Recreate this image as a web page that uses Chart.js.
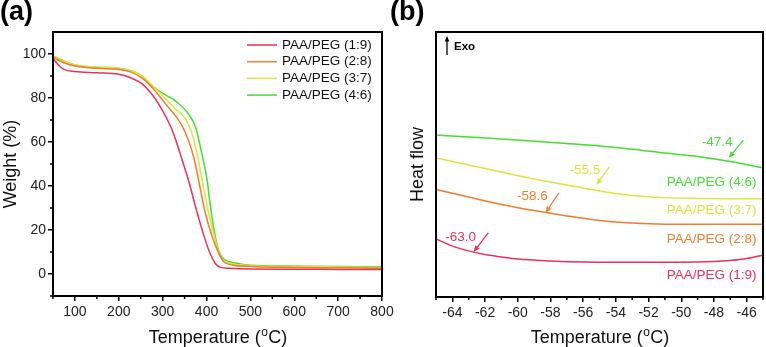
<!DOCTYPE html>
<html>
<head>
<meta charset="utf-8">
<script src="https://cdn.jsdelivr.net/npm/chart.js@4.4.0/dist/chart.umd.min.js"></script>
<style>
  body { margin: 0; background: #fff; }
  #wrap { position: relative; width: 766px; height: 347px; }
  .box { position: absolute; top: 0; height: 347px; }
</style>
</head>
<body>
<div id="wrap">
  <div class="box" style="left:0;width:400px"><canvas id="tga"></canvas></div>
  <div class="box" style="left:390px;width:376px"><canvas id="dsc"></canvas></div>
</div>
<script>
// ---- data: TGA, panel (a) ----
var seriesLabels = ['PAA/PEG (1:9)', 'PAA/PEG (2:8)', 'PAA/PEG (3:7)', 'PAA/PEG (4:6)'];
var seriesColors = ['#e8325a', '#f07d2e', '#dde43c', '#44dd33'];

var tgaTemp1 = [50, 60, 75, 100, 150, 200, 225, 254, 281, 300, 319, 329, 340, 352, 359, 375, 390, 405, 420, 432, 451, 500, 600, 700, 800];
var tgaWeight1 = [98, 95.5, 93, 92, 91.5, 90.8, 89.3, 86.3, 80.2, 74.2, 66.7, 61.4, 54.6, 47, 42.5, 30.5, 20, 10.9, 4.8, 3, 2.6, 2.3, 2.2, 2.1, 2];

var tgaTemp2 = [50, 75, 100, 150, 200, 225, 250, 270, 290, 310, 329, 344, 359, 371, 382, 397.5, 413, 428, 439, 459, 500, 600, 700, 800];
var tgaWeight2 = [98.5, 96, 94.5, 93.5, 93, 92, 89.5, 86, 81.5, 76.5, 72, 67.4, 60.6, 53, 42.5, 27.5, 16.9, 9.4, 5.6, 4.1, 3.4, 3, 2.8, 2.6];

var tgaTemp3 = [50, 100, 150, 200, 225, 250, 270, 290, 310, 329, 352, 367, 378.5, 390, 405, 420, 432, 443, 460, 500, 600, 700, 800];
var tgaWeight3 = [99, 95, 94, 93.5, 92.5, 90.5, 87, 83, 79, 75, 70.5, 63.7, 54.6, 42.5, 27.5, 15.4, 7.8, 5.6, 4.5, 3.8, 3.4, 3.2, 3];

var tgaTemp4 = [50, 100, 150, 200, 225, 250, 270, 290, 310, 329, 359, 375, 386, 397.5, 401.4, 409, 420, 432, 443, 466, 500, 600, 700, 800];
var tgaWeight4 = [99, 95, 94, 93.5, 92.5, 90.5, 86.5, 83.5, 81, 78.7, 72.7, 66.7, 57.6, 47, 42.5, 30.5, 16.9, 8.6, 6.3, 5, 4, 3.6, 3.4, 3.3];

var tgaXTicks = [100, 200, 300, 400, 500, 600, 700, 800];
var tgaYTicks = [0, 20, 40, 60, 80, 100];

// ---- data: DSC, panel (b) (heat flow in arbitrary units) ----
var dscTemp = [-65, -63, -61, -59, -57, -55, -53, -51, -49, -47, -45];
var dscFlow4 = [61.1, 60.4, 59.6, 58.8, 57.9, 57.0, 55.8, 54.3, 53.0, 51.1, 48.7];
var dscFlow3 = [52.5, 49.8, 47.2, 44.5, 42.3, 40.0, 38.3, 37.5, 37.2, 37.1, 37.1];
var dscFlow2 = [40.6, 37.7, 34.9, 32.6, 30.6, 28.9, 27.9, 27.5, 27.5, 27.5, 27.5];
var dscTemp1 = [-65, -64, -63, -62, -61, -60, -58, -56, -54, -52, -50, -48, -47, -46, -45];
var dscFlow1 = [21.9, 19.2, 17.4, 16.0, 15.1, 14.3, 13.6, 13.2, 13.1, 13.1, 13.1, 13.4, 13.8, 14.5, 15.8];

var dscXTicks = [-64, -62, -60, -58, -56, -54, -52, -50, -48, -46];
var tgValues = ['-63.0', '-58.6', '-55.5', '-47.4'];

// annotation placement in data coordinates (red, orange, yellow, green)
var tgTextAt = [[-63.5, 22.6], [-59.1, 38.1], [-55.9, 47.9], [-47.8, 58.5]];
var tgArrowFrom = [[-61.8, 24.2], [-57.5, 39.2], [-54.4, 49.1], [-46.2, 59.2]];
var tgArrowTo = [[-62.7, 17.0], [-58.3, 31.7], [-55.2, 42.3], [-47.1, 52.5]];
var nameAt = [[-45.4, 8.3], [-45.4, 21.9], [-45.4, 32.8], [-45.4, 43.4]];

var FONT = '"Liberation Sans", Arial, sans-serif';
Chart.defaults.font.family = FONT;

function pairs(xs, ys) {
  return xs.map(function (x, i) { return { x: x, y: ys[i] }; });
}

function line(label, color, pts) {
  return {
    label: label, data: pts, borderColor: color, backgroundColor: color,
    borderWidth: 1.5, pointRadius: 0, cubicInterpolationMode: 'monotone', fill: false
  };
}

function drawTempTitle(ctx, cx, y) {
  var big = '18px ' + FONT, small = '12px ' + FONT;
  ctx.font = big;
  var w1 = ctx.measureText('Temperature (').width;
  var w3 = ctx.measureText('C)').width;
  ctx.font = small;
  var w2 = ctx.measureText('o').width;
  var x = cx - (w1 + w2 + w3) / 2;
  ctx.textAlign = 'left';
  ctx.textBaseline = 'alphabetic';
  ctx.fillStyle = '#111';
  ctx.font = big; ctx.fillText('Temperature (', x, y); x += w1;
  ctx.font = small; ctx.fillText('o', x + 0.5, y - 7); x += w2 + 1;
  ctx.font = big; ctx.fillText('C)', x, y);
}

function arrow(ctx, x1, y1, x2, y2, color, head) {
  var ang = Math.atan2(y2 - y1, x2 - x1);
  ctx.strokeStyle = color; ctx.fillStyle = color; ctx.lineWidth = 1.3;
  ctx.beginPath(); ctx.moveTo(x1, y1);
  ctx.lineTo(x2 - Math.cos(ang) * head * 0.6, y2 - Math.sin(ang) * head * 0.6); ctx.stroke();
  ctx.beginPath();
  ctx.moveTo(x2, y2);
  ctx.lineTo(x2 - head * Math.cos(ang - 0.4), y2 - head * Math.sin(ang - 0.4));
  ctx.lineTo(x2 - head * Math.cos(ang + 0.4), y2 - head * Math.sin(ang + 0.4));
  ctx.closePath(); ctx.fill();
}

// frame, minor ticks, panel letter, x title, legend / notes
var panelDecor = {
  id: 'panelDecor',
  afterDraw: function (chart, args, opts) {
    var ctx = chart.ctx, a = chart.chartArea, xs = chart.scales.x, ys = chart.scales.y;
    ctx.save();
    ctx.strokeStyle = '#000'; ctx.lineWidth = 1.5;
    ctx.beginPath();
    (opts.xMinor || []).forEach(function (v) {
      var px = xs.getPixelForValue(v);
      ctx.moveTo(px, a.bottom); ctx.lineTo(px, a.bottom + 3);
    });
    (opts.yMinor || []).forEach(function (v) {
      var py = ys.getPixelForValue(v);
      ctx.moveTo(a.left, py); ctx.lineTo(a.left - 3, py);
    });
    ctx.stroke();
    ctx.lineWidth = 2;
    ctx.strokeRect(a.left, a.top, a.right - a.left, a.bottom - a.top);

    ctx.fillStyle = '#000';
    ctx.font = 'bold 27px ' + FONT;
    ctx.textAlign = 'left'; ctx.textBaseline = 'alphabetic';
    ctx.fillText(opts.letter, 0, 20);

    drawTempTitle(ctx, (a.left + a.right) / 2, 343);

    if (opts.legend) {
      ctx.font = '13.5px ' + FONT; ctx.textBaseline = 'middle';
      chart.data.datasets.forEach(function (ds, i) {
        var y = 45 + i * 16.7;
        ctx.strokeStyle = ds.borderColor; ctx.lineWidth = 1.5;
        ctx.beginPath(); ctx.moveTo(247, y); ctx.lineTo(277, y); ctx.stroke();
        ctx.fillStyle = '#111'; ctx.fillText(ds.label, 282, y);
      });
    }

    if (opts.notes) {
      ctx.font = '13.5px ' + FONT; ctx.textBaseline = 'middle';
      for (var i = 0; i < tgValues.length; i++) {
        var c = seriesColors[i];
        ctx.fillStyle = c; ctx.textAlign = 'center';
        ctx.fillText(tgValues[i], xs.getPixelForValue(tgTextAt[i][0]), ys.getPixelForValue(tgTextAt[i][1]));
        arrow(ctx, xs.getPixelForValue(tgArrowFrom[i][0]), ys.getPixelForValue(tgArrowFrom[i][1]),
          xs.getPixelForValue(tgArrowTo[i][0]), ys.getPixelForValue(tgArrowTo[i][1]), c, 7);
        ctx.fillStyle = c; ctx.textAlign = 'right';
        ctx.fillText(seriesLabels[i], xs.getPixelForValue(nameAt[i][0]), ys.getPixelForValue(nameAt[i][1]));
      }
      // Exo marker
      arrow(ctx, a.left + 11, a.top + 23, a.left + 11, a.top + 4, '#000', 6);
      ctx.fillStyle = '#000'; ctx.textAlign = 'left';
      ctx.font = 'bold 11.5px ' + FONT;
      ctx.fillText('Exo', a.left + 18, a.top + 15);
    }
    ctx.restore();
  }
};

var tickGrid = { display: true, drawOnChartArea: false, drawTicks: true, tickLength: 5, color: '#000', lineWidth: 1.5 };

// ---- panel (a) ----
new Chart(document.getElementById('tga'), {
  type: 'line',
  data: {
    datasets: [
      line(seriesLabels[0], seriesColors[0], pairs(tgaTemp1, tgaWeight1)),
      line(seriesLabels[1], seriesColors[1], pairs(tgaTemp2, tgaWeight2)),
      line(seriesLabels[2], seriesColors[2], pairs(tgaTemp3, tgaWeight3)),
      line(seriesLabels[3], seriesColors[3], pairs(tgaTemp4, tgaWeight4))
    ]
  },
  options: {
    responsive: true, maintainAspectRatio: false, animation: false, events: [],
    layout: { padding: { top: 32, right: 18, left: 0, bottom: 0 } },
    plugins: {
      legend: { display: false }, tooltip: { enabled: false },
      panelDecor: {
        letter: '(a)', legend: true,
        xMinor: [50, 150, 250, 350, 450, 550, 650, 750],
        yMinor: [-10, 10, 30, 50, 70, 90]
      }
    },
    scales: {
      x: {
        type: 'linear', min: 50, max: 800,
        afterBuildTicks: function (s) { s.ticks = tgaXTicks.map(function (v) { return { value: v }; }); },
        afterFit: function (s) { s.height = 51; s.paddingLeft = 0; s.paddingRight = 0; },
        grid: tickGrid, border: { display: false },
        ticks: { color: '#222', font: { size: 14 }, padding: 3, maxRotation: 0, autoSkip: false }
      },
      y: {
        min: -10, max: 110,
        afterBuildTicks: function (s) { s.ticks = tgaYTicks.map(function (v) { return { value: v }; }); },
        afterFit: function (s) { s.width = 53; },
        grid: tickGrid, border: { display: false },
        ticks: { color: '#222', font: { size: 14 }, padding: 2, autoSkip: false },
        title: { display: true, text: 'Weight (%)', color: '#111', font: { size: 18 }, padding: 0 }
      }
    }
  },
  plugins: [panelDecor]
});

// ---- panel (b) ----
new Chart(document.getElementById('dsc'), {
  type: 'line',
  data: {
    datasets: [
      line(seriesLabels[0], seriesColors[0], pairs(dscTemp1, dscFlow1)),
      line(seriesLabels[1], seriesColors[1], pairs(dscTemp, dscFlow2)),
      line(seriesLabels[2], seriesColors[2], pairs(dscTemp, dscFlow3)),
      line(seriesLabels[3], seriesColors[3], pairs(dscTemp, dscFlow4))
    ]
  },
  options: {
    responsive: true, maintainAspectRatio: false, animation: false, events: [],
    layout: { padding: { top: 32, right: 3, left: 0, bottom: 0 } },
    plugins: {
      legend: { display: false }, tooltip: { enabled: false },
      panelDecor: {
        letter: '(b)', notes: true,
        xMinor: [-65, -63, -61, -59, -57, -55, -53, -51, -49, -47, -45]
      }
    },
    scales: {
      x: {
        type: 'linear', min: -65, max: -45,
        afterBuildTicks: function (s) { s.ticks = dscXTicks.map(function (v) { return { value: v }; }); },
        afterFit: function (s) { s.height = 50; s.paddingLeft = 0; s.paddingRight = 0; },
        grid: tickGrid, border: { display: false },
        ticks: { color: '#222', font: { size: 14 }, padding: 3, maxRotation: 0, autoSkip: false }
      },
      y: {
        min: 0, max: 100,
        afterFit: function (s) { s.width = 46; },
        grid: { display: false }, border: { display: false },
        ticks: { display: false },
        title: { display: true, text: 'Heat flow', color: '#111', font: { size: 18 }, padding: { top: 17.5 } }
      }
    }
  },
  plugins: [panelDecor]
});
</script>
</body>
</html>
